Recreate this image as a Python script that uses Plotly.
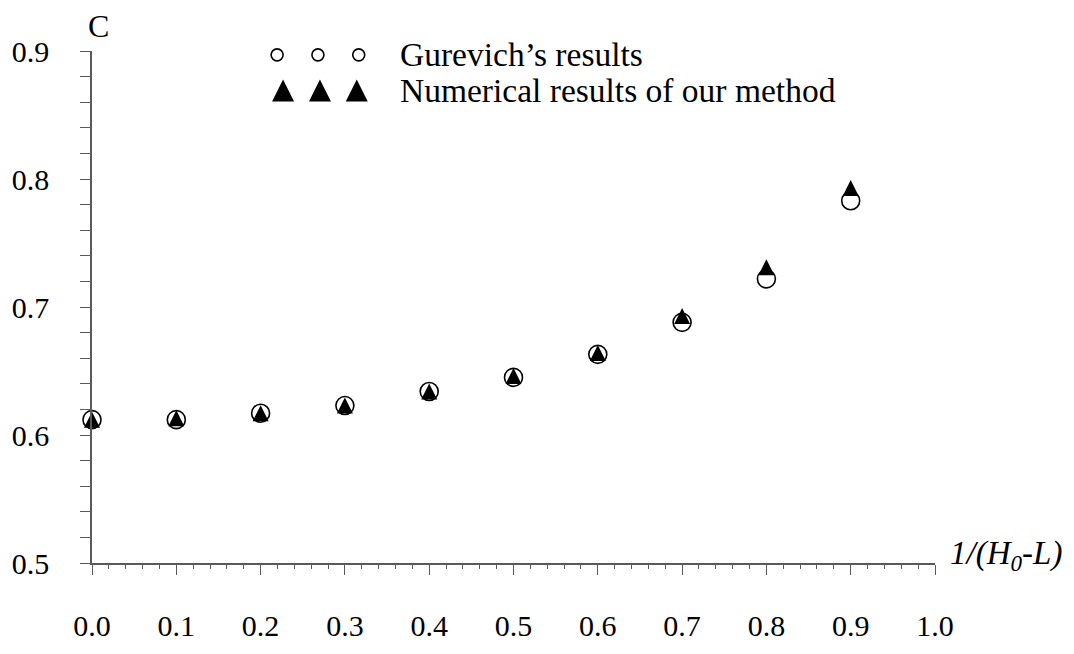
import plotly.graph_objects as go

# Discharge coefficient C versus 1/(H0-L)
x_values = [0.0, 0.1, 0.2, 0.3, 0.4, 0.5, 0.6, 0.7, 0.8, 0.9]
gurevich_c = [0.612, 0.612, 0.617, 0.623, 0.634, 0.645, 0.663, 0.688, 0.722, 0.783]
numerical_c = [0.612, 0.613, 0.617, 0.623, 0.634, 0.646, 0.664, 0.693, 0.731, 0.793]

x_ticks = [0.0, 0.1, 0.2, 0.3, 0.4, 0.5, 0.6, 0.7, 0.8, 0.9, 1.0]
x_tick_text = ["0.0", "0.1", "0.2", "0.3", "0.4", "0.5", "0.6", "0.7", "0.8", "0.9", "1.0"]
y_ticks = [0.5, 0.6, 0.7, 0.8, 0.9]
y_tick_text = ["0.5", "0.6", "0.7", "0.8", "0.9"]

legend_labels = ["Gurevich\u2019s results", "Numerical results of our method"]

FONT = "Liberation Serif, Times New Roman, serif"
AXIS_COLOR = "#5a5a5a"

W, H = 1074, 654
M_L, M_R, M_T, M_B = 88, 139, 51, 73
PLOT_W = W - M_L - M_R
PLOT_H = H - M_T - M_B


def px_x(px):
    """Pixel column -> paper fraction."""
    return (px - M_L) / PLOT_W


def px_y(py):
    """Pixel row (from top) -> paper fraction."""
    return (H - M_B - py) / PLOT_H


# Equilateral-looking solid triangle: an arrow glyph turned upright and
# pushed back by half its size so it sits centred on the point.
def tri_marker(size):
    return dict(symbol="arrow-down", angle=180, size=size, standoff=size / 2,
                color="black", line=dict(width=0))


fig = go.Figure()

fig.add_trace(go.Scatter(
    x=x_values, y=gurevich_c, mode="markers", cliponaxis=False,
    marker=dict(symbol="circle-open", size=18, color="black", line=dict(width=1.6, color="#222")),
    showlegend=False,
))
fig.add_trace(go.Scatter(
    x=x_values, y=numerical_c, mode="markers", cliponaxis=False,
    marker=tri_marker(16),
    showlegend=False,
))

# Hand-drawn key on a pixel-based overlay axis pair
key_circle_x = [274, 315, 356]
key_tri_x = [280, 317, 354]
key_row1_y, key_row2_y = 55, 92
key_text_x = 395
fig.add_trace(go.Scatter(
    x=key_circle_x, y=[key_row1_y] * 3, xaxis="x2", yaxis="y2", mode="markers",
    cliponaxis=False,
    marker=dict(symbol="circle-open", size=12, color="black", line=dict(width=1.6, color="black")),
    showlegend=False,
))
fig.add_trace(go.Scatter(
    x=key_tri_x, y=[key_row2_y] * 3, xaxis="x2", yaxis="y2", mode="markers",
    cliponaxis=False,
    marker=tri_marker(22),
    showlegend=False,
))

annotations = [
    dict(x=px_x(key_text_x), y=px_y(key_row1_y), xref="paper", yref="paper",
         text=legend_labels[0], showarrow=False, xanchor="left", yanchor="middle",
         font=dict(family=FONT, size=33.5, color="black")),
    dict(x=px_x(key_text_x), y=px_y(key_row2_y), xref="paper", yref="paper",
         text=legend_labels[1], showarrow=False, xanchor="left", yanchor="middle",
         font=dict(family=FONT, size=33.5, color="black")),
    dict(x=px_x(95), y=px_y(25), xref="paper", yref="paper", text="C", showarrow=False,
         xanchor="center", yanchor="middle", font=dict(family=FONT, size=32, color="black")),
    dict(x=px_x(948), y=px_y(573), xref="paper", yref="paper",
         text="<i>1/(H<sub>0</sub>-L)</i>",
         showarrow=False, xanchor="left", yanchor="middle",
         font=dict(family=FONT, size=33, color="black")),
]

fig.update_layout(
    width=W, height=H,
    margin=dict(l=M_L, r=M_R, t=M_T, b=M_B),
    paper_bgcolor="white", plot_bgcolor="white",
    font=dict(family=FONT, size=30, color="black"),
    annotations=annotations,
    xaxis=dict(
        range=[0, 1.0], tickmode="array", tickvals=x_ticks, ticktext=x_tick_text,
        showgrid=False, zeroline=False, showline=True, linecolor=AXIS_COLOR, linewidth=1.5,
        ticks="outside", ticklen=10, tickwidth=1.3, tickcolor=AXIS_COLOR,
        ticklabelstandoff=25,
        minor=dict(dtick=0.02, tick0=0, ticks="outside", ticklen=4, tickwidth=1.2,
                   tickcolor=AXIS_COLOR, showgrid=False),
        tickfont=dict(family=FONT, size=30, color="black"),
    ),
    yaxis=dict(
        range=[0.5, 0.9], tickmode="array", tickvals=y_ticks, ticktext=y_tick_text,
        showgrid=False, zeroline=False, showline=True, linecolor=AXIS_COLOR, linewidth=1.5,
        ticks="outside", ticklen=10, tickwidth=1.3, tickcolor=AXIS_COLOR,
        ticklabelstandoff=25,
        minor=dict(dtick=0.02, tick0=0.5, ticks="outside", ticklen=10, tickwidth=1.2,
                   tickcolor=AXIS_COLOR, showgrid=False),
        tickfont=dict(family=FONT, size=30, color="black"),
    ),
    xaxis2=dict(domain=[0, 1], anchor="y2", overlaying="x", range=[M_L, W - M_R],
                visible=False, fixedrange=True),
    yaxis2=dict(domain=[0, 1], anchor="x2", overlaying="y", range=[H - M_B, M_T],
                visible=False, fixedrange=True),
)

fig.write_html("out.html")
